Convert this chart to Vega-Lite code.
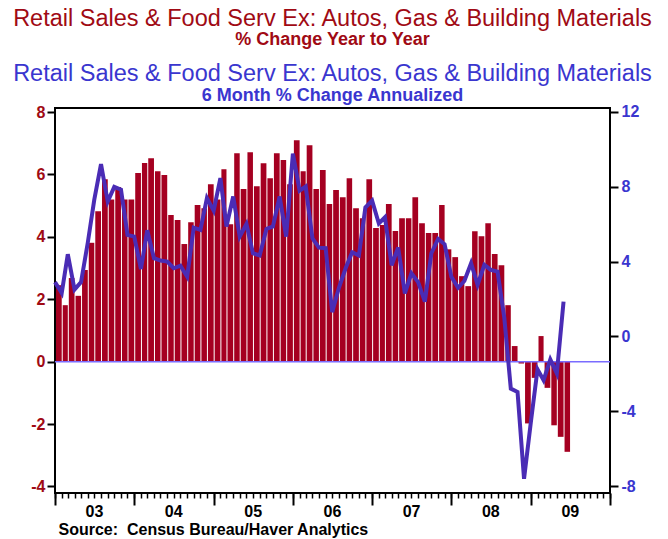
{
  "$schema": "https://vega.github.io/schema/vega-lite/v6.json",
  "background": "white",
  "padding": {"left": 11, "top": 6, "right": 5, "bottom": 0},
  "config": {
    "view": {"stroke": "black", "strokeWidth": 2},
    "font": "Liberation Sans",
    "axis": {"labelFont": "Liberation Sans", "titleFont": "Liberation Sans"}
  },
  "title": {
    "text": "Retail Sales & Food Serv Ex: Autos, Gas & Building Materials",
    "subtitle": "% Change Year to Year",
    "color": "#a00a14",
    "subtitleColor": "#a00a14",
    "font": "Liberation Sans",
    "subtitleFont": "Liberation Sans",
    "fontSize": 23.5,
    "subtitleFontSize": 18,
    "fontWeight": "normal",
    "subtitleFontWeight": "bold",
    "subtitlePadding": 1,
    "anchor": "middle",
    "offset": 12
  },
  "datasets": {
    "m": [
      {"d": "2003-01-01", "yoy": 2.45, "ann": 2.9},
      {"d": "2003-02-01", "yoy": 1.81, "ann": 2.32},
      {"d": "2003-03-01", "yoy": 2.68, "ann": 4.39},
      {"d": "2003-04-01", "yoy": 2.11, "ann": 2.5},
      {"d": "2003-05-01", "yoy": 2.94, "ann": 2.9},
      {"d": "2003-06-01", "yoy": 3.81, "ann": 5.0},
      {"d": "2003-07-01", "yoy": 4.82, "ann": 7.3},
      {"d": "2003-08-01", "yoy": 5.85, "ann": 9.2},
      {"d": "2003-09-01", "yoy": 5.2, "ann": 7.2},
      {"d": "2003-10-01", "yoy": 5.6, "ann": 7.98},
      {"d": "2003-11-01", "yoy": 5.2, "ann": 7.83},
      {"d": "2003-12-01", "yoy": 5.2, "ann": 5.42},
      {"d": "2004-01-01", "yoy": 6.05, "ann": 5.33},
      {"d": "2004-02-01", "yoy": 6.37, "ann": 3.6},
      {"d": "2004-03-01", "yoy": 6.52, "ann": 5.67},
      {"d": "2004-04-01", "yoy": 6.1, "ann": 4.18},
      {"d": "2004-05-01", "yoy": 5.98, "ann": 4.05},
      {"d": "2004-06-01", "yoy": 4.7, "ann": 4.0},
      {"d": "2004-07-01", "yoy": 4.54, "ann": 3.64},
      {"d": "2004-08-01", "yoy": 3.77, "ann": 3.78},
      {"d": "2004-09-01", "yoy": 4.47, "ann": 3.19},
      {"d": "2004-10-01", "yoy": 5.02, "ann": 5.81},
      {"d": "2004-11-01", "yoy": 4.92, "ann": 5.69},
      {"d": "2004-12-01", "yoy": 5.69, "ann": 7.38},
      {"d": "2005-01-01", "yoy": 5.2, "ann": 6.71},
      {"d": "2005-02-01", "yoy": 6.17, "ann": 8.45},
      {"d": "2005-03-01", "yoy": 4.4, "ann": 5.87},
      {"d": "2005-04-01", "yoy": 6.68, "ann": 7.47},
      {"d": "2005-05-01", "yoy": 5.53, "ann": 5.33},
      {"d": "2005-06-01", "yoy": 6.71, "ann": 6.0},
      {"d": "2005-07-01", "yoy": 5.62, "ann": 4.44},
      {"d": "2005-08-01", "yoy": 6.36, "ann": 4.32},
      {"d": "2005-09-01", "yoy": 5.88, "ann": 5.74},
      {"d": "2005-10-01", "yoy": 6.68, "ann": 5.87},
      {"d": "2005-11-01", "yoy": 6.46, "ann": 7.47},
      {"d": "2005-12-01", "yoy": 5.69, "ann": 5.33},
      {"d": "2006-01-01", "yoy": 7.1, "ann": 9.76},
      {"d": "2006-02-01", "yoy": 6.1, "ann": 7.78},
      {"d": "2006-03-01", "yoy": 6.94, "ann": 8.0},
      {"d": "2006-04-01", "yoy": 5.53, "ann": 5.24},
      {"d": "2006-05-01", "yoy": 6.14, "ann": 4.74},
      {"d": "2006-06-01", "yoy": 5.05, "ann": 4.71},
      {"d": "2006-07-01", "yoy": 5.5, "ann": 1.3},
      {"d": "2006-08-01", "yoy": 5.27, "ann": 2.6},
      {"d": "2006-09-01", "yoy": 5.88, "ann": 3.64},
      {"d": "2006-10-01", "yoy": 4.92, "ann": 4.5},
      {"d": "2006-11-01", "yoy": 4.6, "ann": 4.32},
      {"d": "2006-12-01", "yoy": 5.85, "ann": 6.88},
      {"d": "2007-01-01", "yoy": 4.28, "ann": 7.25},
      {"d": "2007-02-01", "yoy": 4.38, "ann": 6.03},
      {"d": "2007-03-01", "yoy": 5.05, "ann": 6.36},
      {"d": "2007-04-01", "yoy": 4.19, "ann": 3.8},
      {"d": "2007-05-01", "yoy": 4.6, "ann": 4.75},
      {"d": "2007-06-01", "yoy": 4.6, "ann": 2.3},
      {"d": "2007-07-01", "yoy": 5.27, "ann": 3.37},
      {"d": "2007-08-01", "yoy": 4.44, "ann": 2.9},
      {"d": "2007-09-01", "yoy": 4.12, "ann": 1.86},
      {"d": "2007-10-01", "yoy": 4.12, "ann": 4.44},
      {"d": "2007-11-01", "yoy": 5.02, "ann": 5.21},
      {"d": "2007-12-01", "yoy": 3.6, "ann": 4.92},
      {"d": "2008-01-01", "yoy": 3.35, "ann": 3.19},
      {"d": "2008-02-01", "yoy": 2.74, "ann": 2.6},
      {"d": "2008-03-01", "yoy": 2.42, "ann": 2.96},
      {"d": "2008-04-01", "yoy": 4.18, "ann": 3.91},
      {"d": "2008-05-01", "yoy": 4.02, "ann": 2.75},
      {"d": "2008-06-01", "yoy": 4.44, "ann": 3.82},
      {"d": "2008-07-01", "yoy": 3.45, "ann": 3.55},
      {"d": "2008-08-01", "yoy": 3.09, "ann": 3.46},
      {"d": "2008-09-01", "yoy": 1.81, "ann": 1.0},
      {"d": "2008-10-01", "yoy": 0.5, "ann": -2.78},
      {"d": "2008-11-01", "yoy": -0.06, "ann": -2.96},
      {"d": "2008-12-01", "yoy": -1.98, "ann": -7.59},
      {"d": "2009-01-01", "yoy": -0.52, "ann": -4.6},
      {"d": "2009-02-01", "yoy": 0.82, "ann": -1.75},
      {"d": "2009-03-01", "yoy": -0.84, "ann": -2.33},
      {"d": "2009-04-01", "yoy": -2.04, "ann": -1.22},
      {"d": "2009-05-01", "yoy": -2.41, "ann": -1.97},
      {"d": "2009-06-01", "yoy": -2.89, "ann": 1.86}
    ]
  },
  "vconcat": [
    {
      "title": {
        "text": "Retail Sales & Food Serv Ex: Autos, Gas & Building Materials",
        "subtitle": "6 Month % Change Annualized",
        "color": "#3a36cf",
        "subtitleColor": "#3a36cf",
        "font": "Liberation Sans",
        "subtitleFont": "Liberation Sans",
        "fontSize": 23.5,
        "subtitleFontSize": 18,
        "fontWeight": "normal",
        "subtitleFontWeight": "bold",
        "subtitlePadding": 1,
        "anchor": "middle",
        "offset": -1
      },
      "width": 555,
      "height": 385,
      "layer": [
        {
          "layer": [
            {
              "data": {"name": "m"},
              "mark": {"type": "bar", "color": "#a50021", "timeUnitBandSize": 0.8},
              "encoding": {
                "x": {
                  "field": "d",
                  "type": "temporal",
                  "timeUnit": "utcyearmonth",
                  "scale": {
                    "type": "utc",
                    "nice": false,
                    "domain": [
                      {"year": 2003, "month": 1, "date": 1, "utc": true},
                      {"year": 2010, "month": 1, "date": 1, "utc": true}
                    ]
                  },
                  "axis": {
                    "orient": "bottom",
                    "tickCount": {"interval": "year", "step": 1},
                    "labelExpr": "utcyear(datum.value) >= 2010 ? '' : utcFormat(datum.value, '%y')",
                    "labelOffset": 39,
                    "labelFlush": false,
                    "labelOverlap": false,
                    "labelFontSize": 16,
                    "labelFontWeight": "bold",
                    "labelColor": "black",
                    "labelPadding": -2,
                    "tickSize": 12,
                    "tickWidth": 2,
                    "tickColor": "black",
                    "domain": false,
                    "grid": false,
                    "title": "Source:\u00a0 Census Bureau/Haver Analytics",
                    "titleAnchor": "start",
                    "titleAlign": "left",
                    "titleX": 3,
                    "titleFontSize": 16,
                    "titleFontWeight": "bold",
                    "titleColor": "black",
                    "titlePadding": 2
                  }
                },
                "y": {
                  "field": "yoy",
                  "type": "quantitative",
                  "scale": {"domain": [-4.21, 8.13], "nice": false},
                  "axis": {
                    "orient": "left",
                    "values": [-4, -2, 0, 2, 4, 6, 8],
                    "labelExpr": "toString(datum.value)",
                    "tickSize": 8,
                    "tickWidth": 2,
                    "tickColor": "black",
                    "domain": false,
                    "grid": false,
                    "labelColor": "#a00a14",
                    "labelFontSize": 16,
                    "labelFontWeight": "bold",
                    "labelPadding": 2,
                    "labelFlush": false,
                    "title": null
                  }
                }
              }
            },
            {
              "data": {"values": [{"z": 0}]},
              "mark": {"type": "rule", "color": "#7a6cff", "strokeWidth": 1.5},
              "encoding": {
                "y": {
                  "field": "z",
                  "type": "quantitative",
                  "scale": {"domain": [-4.21, 8.13], "nice": false},
                  "axis": {
                    "orient": "left",
                    "values": [-4, -2, 0, 2, 4, 6, 8],
                    "labelExpr": "toString(datum.value)",
                    "tickSize": 8,
                    "tickWidth": 2,
                    "tickColor": "black",
                    "domain": false,
                    "grid": false,
                    "labelColor": "#a00a14",
                    "labelFontSize": 16,
                    "labelFontWeight": "bold",
                    "labelPadding": 2,
                    "labelFlush": false,
                    "title": null
                  }
                }
              }
            }
          ]
        },
        {
          "data": {"name": "m"},
          "mark": {"type": "line", "color": "#4a2cb5", "strokeWidth": 4, "timeUnitBandPosition": 0.5},
          "encoding": {
            "x": {
              "field": "d",
              "type": "temporal",
              "timeUnit": "utcyearmonth",
              "axis": {
                "orient": "bottom",
                "tickCount": {"interval": "month", "step": 1},
                "labels": false,
                "domain": false,
                "grid": false,
                "tickSize": 5,
                "tickWidth": 1.5,
                "tickColor": "black",
                "title": null
              }
            },
            "y": {
              "field": "ann",
              "type": "quantitative",
              "scale": {"domain": [-8.35, 12.19], "nice": false},
              "axis": {
                "orient": "right",
                "values": [-8, -4, 0, 4, 8, 12],
                "labelExpr": "toString(datum.value)",
                "tickSize": 8,
                "tickWidth": 2,
                "tickColor": "black",
                "domain": false,
                "grid": false,
                "labelColor": "#3a36cf",
                "labelFontSize": 16,
                "labelFontWeight": "bold",
                "labelPadding": 3,
                "labelFlush": false,
                "title": null
              }
            }
          }
        }
      ],
      "resolve": {"scale": {"y": "independent"}, "axis": {"x": "independent"}}
    }
  ]
}
